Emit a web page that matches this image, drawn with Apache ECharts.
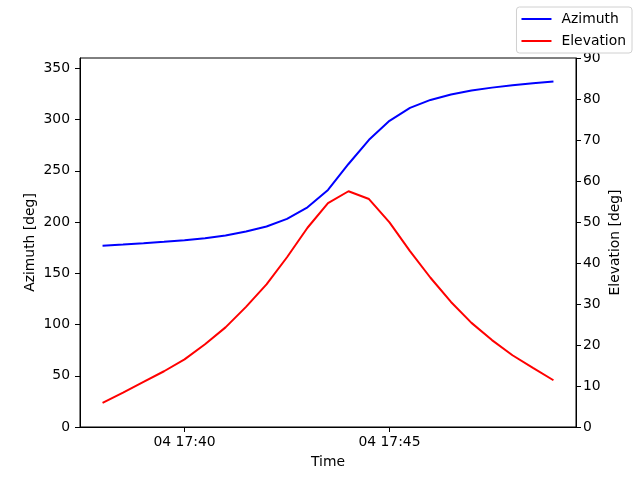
<!DOCTYPE html>
<html>
<head>
<meta charset="utf-8">
<script src="https://cdn.jsdelivr.net/npm/echarts@6/dist/echarts.min.js"></script>
<style>
  html, body { margin: 0; padding: 0; background: #fff; }
  #chart { width: 640px; height: 480px; }
</style>
</head>
<body>
<div id="chart"></div>
<script>
// pass times (day 04), 30 s apart
var times = ['17:38:00', '17:38:30', '17:39:00', '17:39:30', '17:40:00', '17:40:30',
  '17:41:00', '17:41:30', '17:42:00', '17:42:30', '17:43:00', '17:43:30', '17:44:00',
  '17:44:30', '17:45:00', '17:45:30', '17:46:00', '17:46:30', '17:47:00', '17:47:30',
  '17:48:00', '17:48:30', '17:49:00'];
var azimuth = [176.8, 178.0, 179.3, 180.7, 182.3, 184.2, 186.8, 190.7, 195.6, 203.0,
  214.3, 231.3, 256.6, 280.2, 298.7, 311.3, 319.1, 324.3, 328.2, 331.1, 333.4, 335.4, 337.0];
var elevation = [5.9, 8.4, 11.0, 13.6, 16.5, 20.2, 24.3, 29.3, 34.8, 41.4, 48.6, 54.6,
  57.5, 55.6, 49.9, 42.9, 36.4, 30.5, 25.4, 21.2, 17.5, 14.4, 11.4];
var timeTicks = ['17:40:00', '17:45:00'];
var azTicks = [0, 50, 100, 150, 200, 250, 300, 350];
var day = '04';

// minutes since midnight
function toMin(t) {
  var p = t.split(':');
  return (+p[0]) * 60 + (+p[1]) + (+p[2]) / 60;
}
function fmt(v) {
  var h = Math.floor(v / 60), m = Math.round(v - h * 60);
  return day + ' ' + h + ':' + (m < 10 ? '0' : '') + m;
}

var xs = times.map(toMin);
var span = xs[xs.length - 1] - xs[0];
var font = 'DejaVu Sans';
var txt = { color: '#000', fontFamily: font, fontSize: 13.9 };

var chart = echarts.init(document.getElementById('chart'));
chart.setOption({
  animation: false,
  textStyle: { fontFamily: font },
  grid: { left: 80, right: 64, top: 58, bottom: 53, show: true, borderColor: '#000', borderWidth: 1, backgroundColor: 'transparent' },
  legend: {
    orient: 'vertical', right: 8, top: 7,
    data: ['Azimuth', 'Elevation'],
    icon: 'rect',
    itemWidth: 30, itemHeight: 2, itemGap: 6,
    padding: [4, 6, 4, 5],
    borderColor: '#d0d0d0', borderWidth: 1, borderRadius: 3,
    backgroundColor: '#fff',
    textStyle: Object.assign({ padding: [0, 0, 0, 5], lineHeight: 16 }, txt)
  },
  xAxis: {
    type: 'value',
    min: xs[0] - span * 0.05, max: xs[xs.length - 1] + span * 0.05,
    name: 'Time', nameLocation: 'middle', nameGap: 28, nameTextStyle: txt,
    axisLine: { onZero: false, lineStyle: { color: '#000' } },
    axisTick: { show: true, length: 5, lineStyle: { color: '#000' }, customValues: timeTicks.map(toMin) },
    axisLabel: Object.assign({ margin: 8, formatter: fmt, customValues: timeTicks.map(toMin) }, txt),
    splitLine: { show: false }
  },
  yAxis: [{
    type: 'value', min: 0, max: 360,
    name: 'Azimuth [deg]', nameLocation: 'middle', nameGap: 43, nameRotate: 90,
    nameMoveOverlap: false, nameTextStyle: txt,
    axisLine: { show: true, lineStyle: { color: '#000' } },
    axisTick: { show: true, length: 5, lineStyle: { color: '#000' }, customValues: azTicks },
    axisLabel: Object.assign({ margin: 10, customValues: azTicks }, txt),
    splitLine: { show: false }
  }, {
    type: 'value', min: 0, max: 90, interval: 10, position: 'right',
    name: 'Elevation [deg]', nameLocation: 'middle', nameGap: 32, nameRotate: 90,
    nameMoveOverlap: false, nameTextStyle: txt,
    axisLine: { show: true, lineStyle: { color: '#000' } },
    axisTick: { show: true, length: 5, lineStyle: { color: '#000' } },
    axisLabel: Object.assign({ margin: 7 }, txt),
    splitLine: { show: false }
  }],
  series: [{
    name: 'Azimuth', type: 'line', yAxisIndex: 0, symbol: 'none',
    color: '#0000ff', lineStyle: { width: 2, color: '#0000ff' },
    data: xs.map(function (x, i) { return [x, azimuth[i]]; })
  }, {
    name: 'Elevation', type: 'line', yAxisIndex: 1, symbol: 'none',
    color: '#ff0000', lineStyle: { width: 2, color: '#ff0000' },
    data: xs.map(function (x, i) { return [x, elevation[i]]; })
  }]
});
</script>
</body>
</html>
